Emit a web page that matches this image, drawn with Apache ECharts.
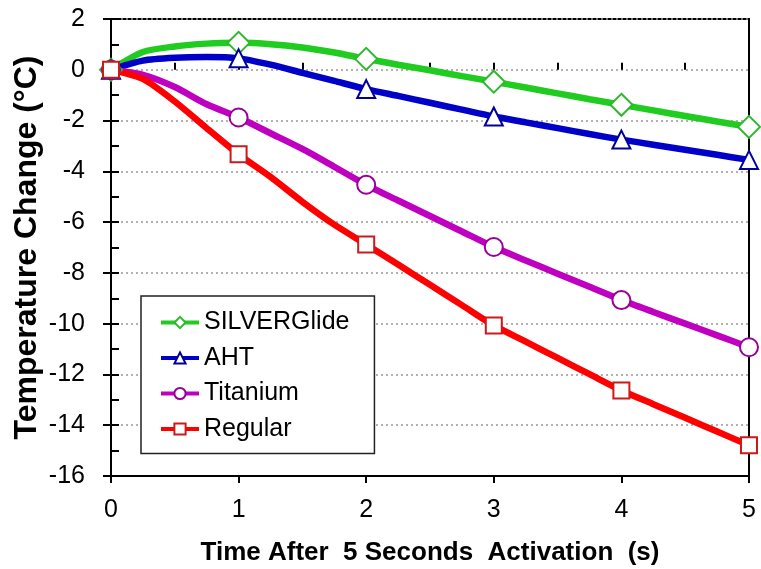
<!DOCTYPE html>
<html>
<head>
<meta charset="utf-8">
<script src="https://cdn.jsdelivr.net/npm/echarts@6/dist/echarts.min.js"></script>
<style>
  html, body { margin: 0; padding: 0; background: #fff; }
  #chart { width: 761px; height: 569px; }
</style>
</head>
<body>
<div id="chart"></div>
<script>
// time after activation (s), sampled every 0.25 s
const times = [0, 0.25, 0.5, 0.75, 1, 1.25, 1.5, 1.75, 2, 2.25, 2.5, 2.75, 3, 3.25, 3.5, 3.75, 4, 4.25, 4.5, 4.75, 5];

const silverGlide = [0, 0.7, 0.92, 1.03, 1.06, 1.01, 0.88, 0.68, 0.43, 0.2, -0.02, -0.25, -0.47, -0.7, -0.93, -1.16, -1.38, -1.6, -1.82, -2.04, -2.25];
const aht = [0, 0.36, 0.47, 0.5, 0.45, 0.2, -0.12, -0.44, -0.76, -1.03, -1.3, -1.57, -1.84, -2.07, -2.3, -2.53, -2.75, -2.95, -3.15, -3.35, -3.55];
const titanium = [0, -0.2, -0.68, -1.36, -1.88, -2.5, -3.12, -3.82, -4.53, -5.15, -5.76, -6.37, -6.98, -7.51, -8.03, -8.55, -9.07, -9.54, -10.0, -10.46, -10.93];
const regular = [0, -0.36, -1.25, -2.3, -3.33, -4.22, -5.2, -6.1, -6.88, -7.67, -8.47, -9.27, -10.07, -10.71, -11.35, -11.99, -12.63, -13.17, -13.71, -14.25, -14.79];

const seriesNames = ['SILVERGlide', 'AHT', 'Titanium', 'Regular'];

const font = '"Liberation Sans", Arial, sans-serif';

function makeSeries(name, values, lineColor, markColor, symbol, size) {
  return {
    name: name,
    type: 'line',
    data: times.map((t, i) => [t, values[i]]),
    symbol: symbol,
    showAllSymbol: true,
    symbolSize: v => (v[0] % 1 === 0 ? size : 0),
    smooth: 0.25,
    lineStyle: { color: lineColor, width: 6.5 },
    itemStyle: { color: '#fff', borderColor: markColor, borderWidth: 2 },
    emphasis: { disabled: true }
  };
}

const chart = echarts.init(document.getElementById('chart'));
chart.setOption({
  animation: false,
  backgroundColor: '#fff',
  grid: {
    left: 111, right: 12, top: 19, bottom: 93,
    outerBoundsMode: 'none',
    show: true, borderColor: '#000', borderWidth: 2, backgroundColor: 'transparent'
  },
  legend: {
    data: seriesNames,
    orient: 'vertical',
    left: 141, top: 296,
    padding: [14, 25, 12, 18],
    itemGap: 10.5,
    itemWidth: 38,
    itemHeight: 14,
    backgroundColor: '#fff',
    borderColor: '#222',
    borderWidth: 1.5,
    lineStyle: { width: 4 },
    textStyle: { fontFamily: font, fontSize: 25, color: '#000' }
  },
  xAxis: [{
    type: 'value', min: 0, max: 5, interval: 1,
    name: 'Time After  5 Seconds  Activation  (s)',
    nameLocation: 'middle', nameGap: 64,
    nameMoveOverlap: false,
    nameTextStyle: { fontFamily: font, fontSize: 26, fontWeight: 'bold', color: '#000' },
    axisLine: { onZero: false, lineStyle: { color: '#000', width: 2 } },
    axisTick: { length: 7, lineStyle: { color: '#000', width: 2 } },
    axisLabel: { margin: 22, fontFamily: font, fontSize: 25, color: '#000' },
    splitLine: { show: false }
  }, {
    type: 'value', min: 0, max: 5, interval: 1, position: 'bottom',
    axisLine: { show: false },
    axisTick: { inside: true, length: 7, lineStyle: { color: '#000', width: 2 } },
    minorTick: { show: true, splitNumber: 2, length: 7, lineStyle: { color: '#000', width: 2 } },
    axisLabel: { show: false },
    splitLine: { show: false }
  }],
  yAxis: [{
    type: 'value', min: -16, max: 2, interval: 2,
    name: 'Temperature Change (°C)',
    nameLocation: 'middle', nameGap: 68,
    nameMoveOverlap: false,
    nameTextStyle: { fontFamily: font, fontSize: 32, fontWeight: 'bold', color: '#000' },
    axisLine: { onZero: false, lineStyle: { color: '#000', width: 2 } },
    axisTick: { length: 8, lineStyle: { color: '#000', width: 2 } },
    axisLabel: { margin: 26, fontFamily: font, fontSize: 25, color: '#000' },
    splitLine: { show: true, lineStyle: { color: '#999', width: 1.5, type: [2, 3] } }
  }, {
    type: 'value', min: -16, max: 2, interval: 2, position: 'left',
    axisLine: { show: false },
    axisTick: { inside: true, length: 8, lineStyle: { color: '#000', width: 2 } },
    minorTick: { show: true, splitNumber: 2, length: 8, lineStyle: { color: '#000', width: 2 } },
    axisLabel: { show: false },
    splitLine: { show: false }
  }],
  series: [
    makeSeries(seriesNames[0], silverGlide, '#1fcc1f', '#2eb82e', 'diamond', 22),
    makeSeries(seriesNames[1], aht, '#0000c8', '#00009a', 'triangle', 18),
    makeSeries(seriesNames[2], titanium, '#c000c0', '#990099', 'circle', 18),
    makeSeries(seriesNames[3], regular, '#ff0000', '#cc1a1a', 'rect', 16)
  ]
});
</script>
</body>
</html>
